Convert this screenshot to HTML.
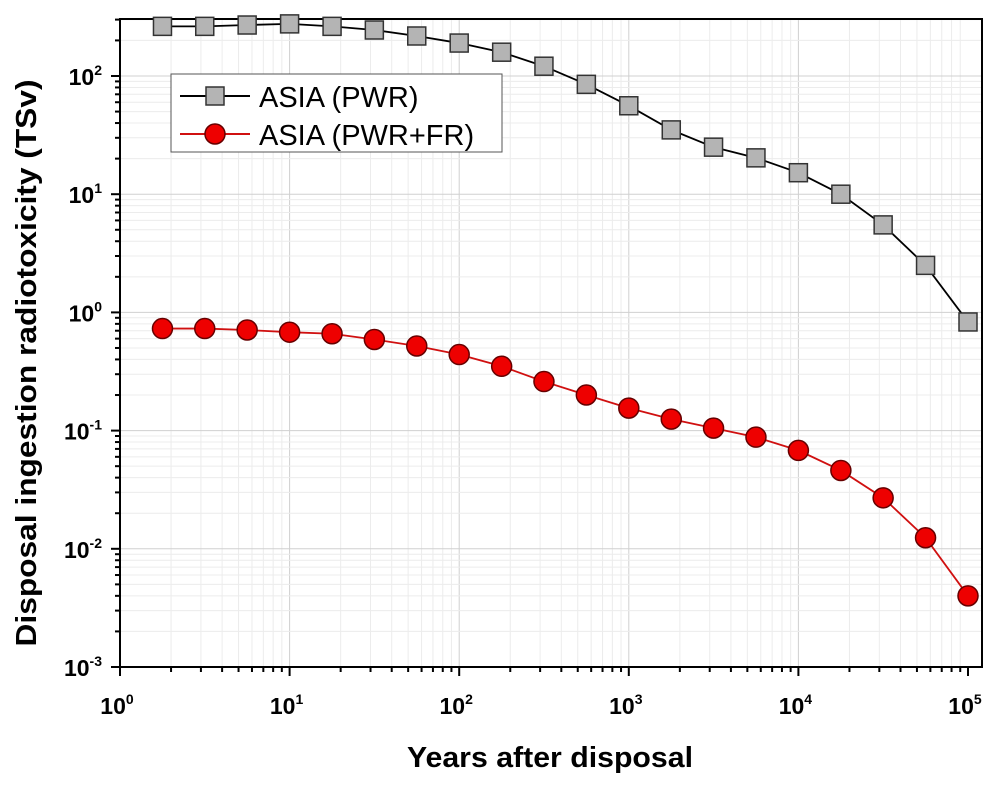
<!DOCTYPE html>
<html><head><meta charset="utf-8"><style>
body{margin:0;background:#fff}
svg{display:block;font-family:"Liberation Sans",Arial,sans-serif}
</style></head><body>
<svg id="c" width="1000" height="787"></svg>
<script>
const years=[1.78,3.16,5.62,10,17.8,31.6,56.2,100,178,316,562,1000,1780,3160,5620,10000,17800,31600,56200,100000];
const pwr=[263,263,270,276,263,245,218,190,159,121,85,56,35,25,20.3,15.2,10,5.5,2.5,0.83];
const pwrfr=[0.73,0.73,0.71,0.68,0.66,0.59,0.52,0.44,0.35,0.26,0.20,0.155,0.125,0.105,0.088,0.068,0.046,0.027,0.0124,0.004];
const xTickExp=[0,1,2,3,4,5];
const yTickExp=[-3,-2,-1,0,1,2];
const L=120,R=982,T=19,B=667;
const X=v=>L+Math.log10(v)*169.6;
const Y=v=>76+(2-Math.log10(v))*118.2;
const s=document.getElementById('c');const NS='http://www.w3.org/2000/svg';
function e(t,a,p){const n=document.createElementNS(NS,t);for(const k in a)n.setAttribute(k,a[k]);(p||s).appendChild(n);return n;}
const g=e('g',{});


for(let d=0;d<5;d++)for(let m=1;m<10;m++){const x=X(m*Math.pow(10,d));if(x>L&&x<R)e('line',{x1:x,x2:x,y1:T,y2:B,stroke:m==1?'#d0d0d0':'#ececec','stroke-width':1},g);}
for(let d=-3;d<3;d++)for(let m=1;m<10;m++){const y=Y(m*Math.pow(10,d));if(y>T&&y<B)e('line',{x1:L,x2:R,y1:y,y2:y,stroke:m==1?'#d0d0d0':'#ececec','stroke-width':1},g);}
const fr=e('rect',{x:L,y:T,width:R-L,height:B-T,fill:'none',stroke:'#000','stroke-width':2});


for(let d=0;d<5;d++)for(let m=1;m<10;m++){const x=X(m*Math.pow(10,d));e('line',{x1:x,x2:x,y1:B,y2:B+(m==1?9:5),stroke:'#000','stroke-width':2});}
e('line',{x1:X(1e5),x2:X(1e5),y1:B,y2:B+9,stroke:'#000','stroke-width':2});
for(let d=-3;d<3;d++)for(let m=1;m<10;m++){const y=Y(m*Math.pow(10,d));if(y>=T)e('line',{x1:L,x2:L-(m==1?9:5),y1:y,y2:y,stroke:'#000','stroke-width':2});}
xTickExp.forEach(p=>{const t=e('text',{x:X(Math.pow(10,p))-3,y:B+47,'text-anchor':'middle','font-size':23,'font-weight':'bold'});t.textContent='10';const u=e('tspan',{dy:-10,'font-size':14},t);u.textContent=p;});
yTickExp.forEach(p=>{const t=e('text',{x:L-18,y:Y(Math.pow(10,p))+9,'text-anchor':'end','font-size':23,'font-weight':'bold'});t.textContent='10';const u=e('tspan',{dy:-10,'font-size':14},t);u.textContent=p;});
const xl=e('text',{x:550,y:767,'text-anchor':'middle','font-size':29,'font-weight':'bold',textLength:286,lengthAdjust:'spacingAndGlyphs'});xl.textContent='Years after disposal';


const yl=e('text',{x:0,y:0,transform:'translate(36,363) rotate(-90)','text-anchor':'middle','font-size':29,'font-weight':'bold',textLength:567,lengthAdjust:'spacingAndGlyphs'});yl.textContent='Disposal ingestion radiotoxicity (TSv)';


function series(vals,col,fill,shape,name){const gg=e('g',{});
e('polyline',{points:years.map((x,i)=>X(x)+','+Y(vals[i])).join(' '),fill:'none',stroke:col,'stroke-width':1.8},gg);
years.forEach((x,i)=>{let m;if(shape=='sq')m=e('rect',{x:X(x)-9,y:Y(vals[i])-9,width:18,height:18,fill:fill,stroke:'#333','stroke-width':1.5},gg);else m=e('circle',{cx:X(x),cy:Y(vals[i]),r:10,fill:fill,stroke:'#600','stroke-width':1.5},gg);});}
series(pwr,'#000','#b4b4b4','sq','series-pwr');
series(pwrfr,'#d01010','#ee0000','ci','series-pwr-fr');
const lg=e('g',{});


e('rect',{x:171,y:74,width:331,height:78,fill:'#fff',stroke:'#555','stroke-width':1},lg);
e('line',{x1:180,x2:250,y1:96,y2:96,stroke:'#000','stroke-width':2},lg);
e('rect',{x:206,y:87,width:18,height:18,fill:'#b4b4b4',stroke:'#333','stroke-width':1.5},lg);
e('line',{x1:180,x2:250,y1:134,y2:134,stroke:'#d01010','stroke-width':2},lg);
e('circle',{cx:215,cy:134,r:10,fill:'#ee0000',stroke:'#600','stroke-width':1.5},lg);
const t1=e('text',{x:259,y:107,'font-size':29},lg);t1.textContent='ASIA (PWR)';


const t2=e('text',{x:259,y:145,'font-size':29},lg);t2.textContent='ASIA (PWR+FR)';


</script>
</body></html>
